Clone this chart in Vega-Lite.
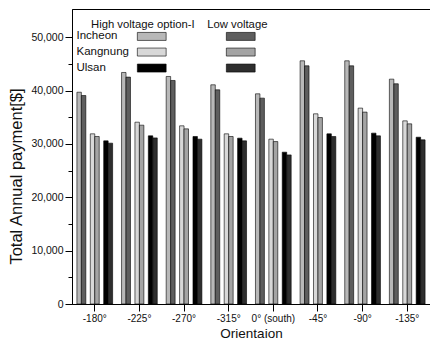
{
  "$schema": "https://vega.github.io/schema/vega-lite/v6.json",
  "width": 358,
  "height": 295,
  "autosize": {"type": "none"},
  "padding": {"left": 72, "top": 9, "right": 0, "bottom": 43},
  "background": "white",
  "config": {
    "font": "Liberation Sans",
    "view": {"stroke": "black", "strokeWidth": 1},
    "axis": {
      "domainColor": "black",
      "tickColor": "black",
      "labelColor": "#111",
      "titleColor": "#111",
      "labelFont": "Liberation Sans",
      "titleFont": "Liberation Sans",
      "titleFontWeight": "normal",
      "grid": false
    }
  },
  "data": {
    "values": [
      {"orientation": "-180°", "series": "Incheon HV", "payment": 39700},
      {"orientation": "-180°", "series": "Incheon LV", "payment": 39080},
      {"orientation": "-180°", "series": "Kangnung HV", "payment": 31900},
      {"orientation": "-180°", "series": "Kangnung LV", "payment": 31400},
      {"orientation": "-180°", "series": "Ulsan HV", "payment": 30580},
      {"orientation": "-180°", "series": "Ulsan LV", "payment": 30150},
      {"orientation": "-225°", "series": "Incheon HV", "payment": 43400},
      {"orientation": "-225°", "series": "Incheon LV", "payment": 42530},
      {"orientation": "-225°", "series": "Kangnung HV", "payment": 34080},
      {"orientation": "-225°", "series": "Kangnung LV", "payment": 33520},
      {"orientation": "-225°", "series": "Ulsan HV", "payment": 31520},
      {"orientation": "-225°", "series": "Ulsan LV", "payment": 31140},
      {"orientation": "-270°", "series": "Incheon HV", "payment": 42650},
      {"orientation": "-270°", "series": "Incheon LV", "payment": 41900},
      {"orientation": "-270°", "series": "Kangnung HV", "payment": 33400},
      {"orientation": "-270°", "series": "Kangnung LV", "payment": 32830},
      {"orientation": "-270°", "series": "Ulsan HV", "payment": 31400},
      {"orientation": "-270°", "series": "Ulsan LV", "payment": 30900},
      {"orientation": "-315°", "series": "Incheon HV", "payment": 41090},
      {"orientation": "-315°", "series": "Incheon LV", "payment": 40150},
      {"orientation": "-315°", "series": "Kangnung HV", "payment": 31900},
      {"orientation": "-315°", "series": "Kangnung LV", "payment": 31400},
      {"orientation": "-315°", "series": "Ulsan HV", "payment": 31090},
      {"orientation": "-315°", "series": "Ulsan LV", "payment": 30580},
      {"orientation": "0°    (south)", "series": "Incheon HV", "payment": 39400},
      {"orientation": "0°    (south)", "series": "Incheon LV", "payment": 38590},
      {"orientation": "0°    (south)", "series": "Kangnung HV", "payment": 30900},
      {"orientation": "0°    (south)", "series": "Kangnung LV", "payment": 30450},
      {"orientation": "0°    (south)", "series": "Ulsan HV", "payment": 28460},
      {"orientation": "0°    (south)", "series": "Ulsan LV", "payment": 27950},
      {"orientation": "-45°", "series": "Incheon HV", "payment": 45590},
      {"orientation": "-45°", "series": "Incheon LV", "payment": 44650},
      {"orientation": "-45°", "series": "Kangnung HV", "payment": 35650},
      {"orientation": "-45°", "series": "Kangnung LV", "payment": 34950},
      {"orientation": "-45°", "series": "Ulsan HV", "payment": 31900},
      {"orientation": "-45°", "series": "Ulsan LV", "payment": 31400},
      {"orientation": "-90°", "series": "Incheon HV", "payment": 45590},
      {"orientation": "-90°", "series": "Incheon LV", "payment": 44650},
      {"orientation": "-90°", "series": "Kangnung HV", "payment": 36720},
      {"orientation": "-90°", "series": "Kangnung LV", "payment": 35970},
      {"orientation": "-90°", "series": "Ulsan HV", "payment": 32030},
      {"orientation": "-90°", "series": "Ulsan LV", "payment": 31520},
      {"orientation": "-135°", "series": "Incheon HV", "payment": 42150},
      {"orientation": "-135°", "series": "Incheon LV", "payment": 41280},
      {"orientation": "-135°", "series": "Kangnung HV", "payment": 34330},
      {"orientation": "-135°", "series": "Kangnung LV", "payment": 33770},
      {"orientation": "-135°", "series": "Ulsan HV", "payment": 31270},
      {"orientation": "-135°", "series": "Ulsan LV", "payment": 30770}
    ]
  },
  "mark": {"type": "bar", "stroke": "black", "strokeWidth": 0.6},
  "encoding": {
    "x": {
      "field": "orientation",
      "type": "nominal",
      "scale": {
        "domain": ["-180°", "-225°", "-270°", "-315°", "0°    (south)", "-45°", "-90°", "-135°"],
        "paddingInner": 0.2,
        "paddingOuter": 0.11
      },
      "axis": {
        "title": "Orientaion",
        "titleFontSize": 13.5,
        "titlePadding": 3,
        "labelFontSize": 10,
        "labelAngle": 0,
        "labelPadding": 2,
        "tickSize": 7,
        "domainWidth": 1
      }
    },
    "xOffset": {
      "field": "series",
      "type": "nominal",
      "scale": {
        "domain": ["Incheon HV", "Incheon LV", "gap1", "Kangnung HV", "Kangnung LV", "gap2", "Ulsan HV", "Ulsan LV"],
        "paddingInner": 0,
        "paddingOuter": 0
      }
    },
    "y": {
      "field": "payment",
      "type": "quantitative",
      "scale": {"domain": [0, 55300], "nice": false},
      "axis": {
        "title": "Total Annual payment[$]",
        "titleFontSize": 16.5,
        "titleY": 167,
        "titlePadding": 6,
        "values": [0, 5000, 10000, 15000, 20000, 25000, 30000, 35000, 40000, 45000, 50000],
        "labelExpr": "datum.value % 10000 === 0 ? format(datum.value, ',') : ''",
        "tickSize": {"condition": {"test": "datum.value % 10000 !== 0", "value": 4}, "value": 7},
        "labelFontSize": 10.5,
        "labelPadding": 2
      }
    },
    "color": {
      "field": "series",
      "type": "nominal",
      "scale": {
        "domain": ["Incheon HV", "Incheon LV", "Kangnung HV", "Kangnung LV", "Ulsan HV", "Ulsan LV"],
        "range": ["#b8b8b8", "#5e5e5e", "#d8d8d8", "#a4a4a4", "#000000", "#2e2e2e"]
      },
      "legend": {
        "orient": "none",
        "direction": "horizontal",
        "legendX": 19,
        "legendY": 10,
        "title": "High voltage option-I\u00a0\u00a0\u00a0\u00a0Low voltage",
        "titleFont": "Liberation Sans",
        "titleFontSize": 11.3,
        "titleFontWeight": "normal",
        "titleColor": "#111",
        "titlePadding": 0,
        "columns": 2,
        "columnPadding": -3,
        "rowPadding": 3,
        "symbolType": "M-3.6,-1h7.2v2h-7.2z",
        "symbolSize": 64,
        "symbolStrokeColor": "black",
        "symbolStrokeWidth": 0.6,
        "symbolOffset": 55,
        "labelOffset": -81,
        "labelFont": "Liberation Sans",
        "labelFontSize": 11.5,
        "labelColor": "#111",
        "labelExpr": "indexof(datum.label, 'HV') >= 0 ? replace(datum.label, ' HV', '') : '\u00a0\u00a0\u00a0\u00a0\u00a0\u00a0\u00a0\u00a0\u00a0\u00a0'"
      }
    }
  }
}
